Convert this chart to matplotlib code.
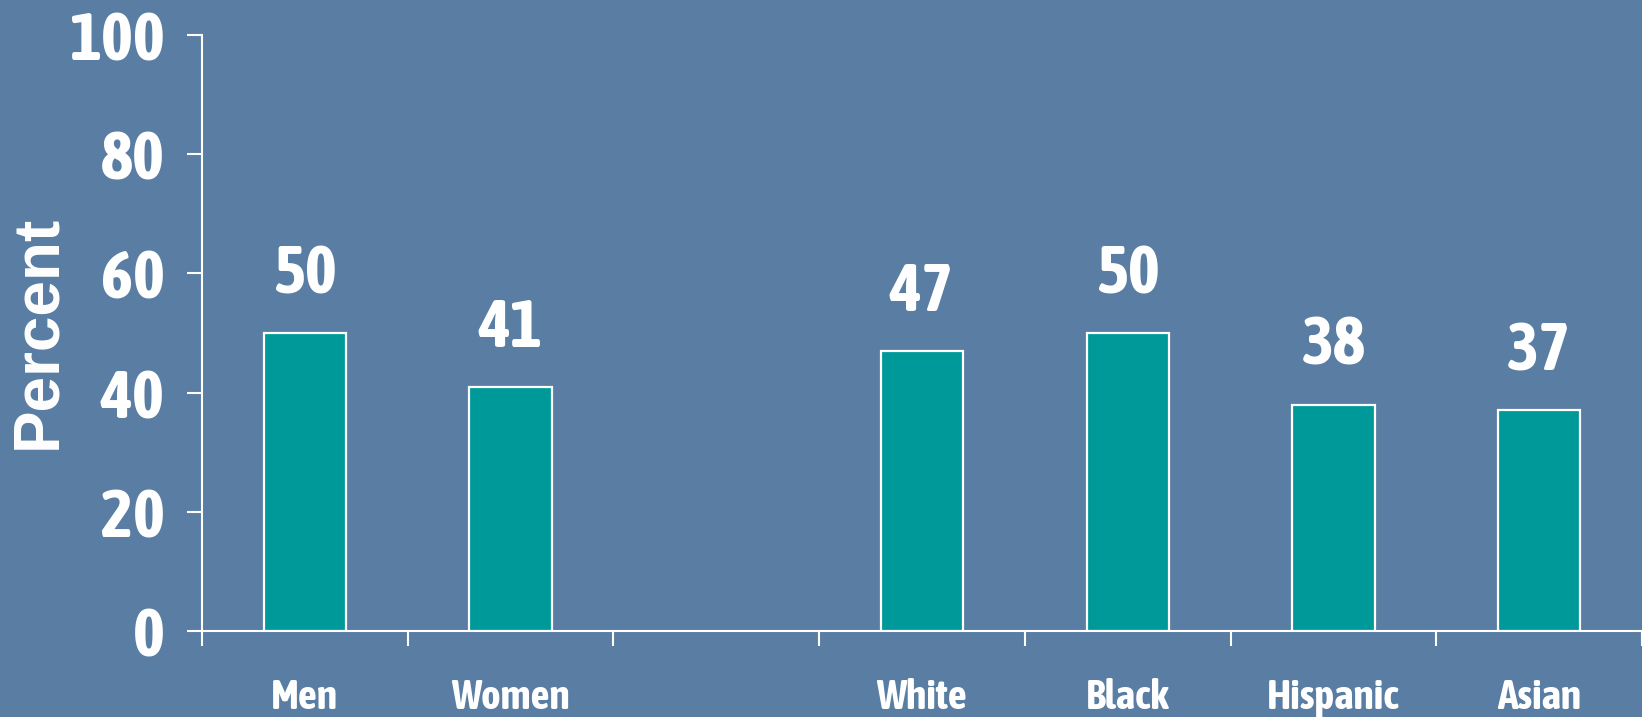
import matplotlib.pyplot as plt

categories = ['Men', 'Women', '', 'White', 'Black', 'Hispanic', 'Asian']
values = [50, 41, None, 47, 50, 38, 37]
yticks = [0, 20, 40, 60, 80, 100]

bg = '#597da3'
teal = '#009999'
narrow = ['Asap Condensed', 'Archivo Narrow', 'Liberation Sans Narrow', 'DejaVu Sans']

fig = plt.figure(figsize=(16.42, 7.17), dpi=100, facecolor=bg)
ax = fig.add_axes([202 / 1642, 86 / 717, 1440 / 1642, 596 / 717])
ax.set_facecolor(bg)

pos = [i for i, v in enumerate(values) if v is not None]
vals = [v for v in values if v is not None]
ax.bar(pos, vals, width=0.4, color=teal, edgecolor='white', linewidth=1.6, zorder=3)

for x, v in zip(pos, vals):
    ax.text(x, v + 9.8, str(v), ha='center', va='center', color='white',
            fontsize=49, fontweight='bold', family=narrow)

ax.set_xlim(-0.5, -0.5 + 1440 / 207)
ax.set_ylim(0, 100)

ax.set_yticks(yticks)
ax.set_yticklabels([str(t) for t in yticks], fontsize=49, fontweight='bold',
                   family=narrow, color='white')
ax.tick_params(axis='y', length=11, width=1.5, color='white', pad=16)

# ticks sit between categories, labels at the centres
ax.set_xticks([i - 0.5 for i in range(8)])
ax.set_xticklabels([])
ax.set_xticks(range(len(categories)), minor=True)
ax.set_xticklabels(categories, minor=True, fontsize=30, fontweight='bold',
                   family=narrow, color='white')
ax.tick_params(axis='x', which='major', length=11, width=1.5, color='white')
ax.tick_params(axis='x', which='minor', length=0, pad=34)

for s in ['top', 'right']:
    ax.spines[s].set_visible(False)
for s in ['left', 'bottom']:
    ax.spines[s].set_color('white')
    ax.spines[s].set_linewidth(1.5)

fig.text(38 / 1642, 1 - 332 / 717, 'Percent', rotation=90, ha='center', va='center',
         fontsize=46, fontweight='bold', color='white',
         family=['Liberation Sans', 'DejaVu Sans'])

fig.savefig('out.png', dpi=100, facecolor=bg)
